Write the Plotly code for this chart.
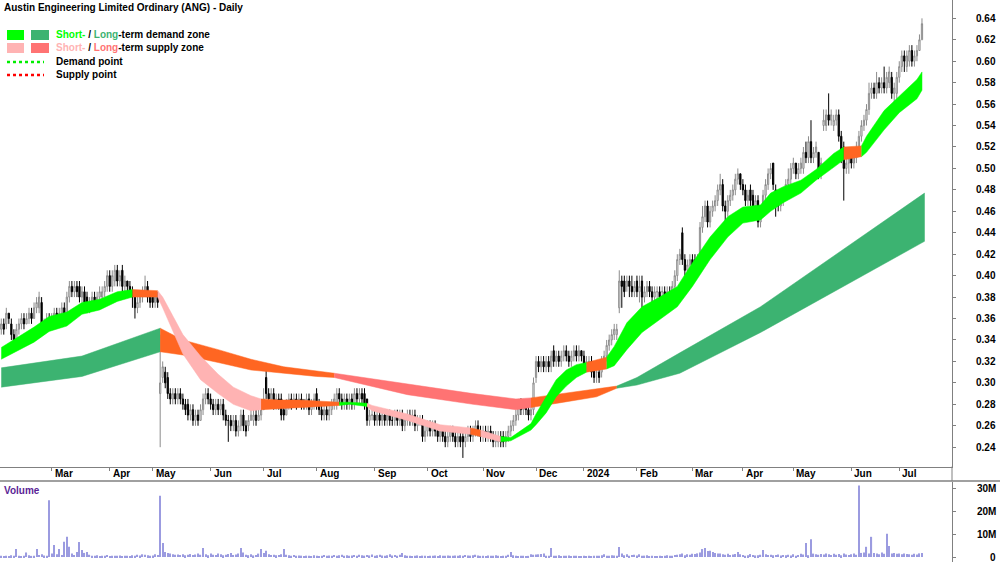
import plotly.graph_objects as go

# ---------------- data ----------------
# trading-day index 0 = first candle (early Feb 2023)
opens = [
    0.350, 0.355, 0.355, 0.365, 0.355, 0.345, 0.340, 0.350, 0.355, 0.360,
    0.355, 0.360, 0.365, 0.360, 0.370, 0.370, 0.375, 0.350, 0.355, 0.360,
    0.355, 0.360, 0.365, 0.360, 0.365, 0.370, 0.365, 0.380, 0.390, 0.385,
    0.390, 0.390, 0.380, 0.385, 0.380, 0.370, 0.375, 0.380, 0.375, 0.380,
    0.380, 0.385, 0.390, 0.400, 0.390, 0.395, 0.405, 0.395, 0.405, 0.390,
    0.395, 0.390, 0.385, 0.380, 0.370, 0.375, 0.380, 0.385, 0.390, 0.380,
    0.380, 0.375, 0.380, 0.290, 0.305, 0.310, 0.305, 0.290, 0.285, 0.290,
    0.285, 0.290, 0.285, 0.280, 0.280, 0.270, 0.275, 0.265, 0.270, 0.265,
    0.275, 0.285, 0.290, 0.285, 0.280, 0.275, 0.280, 0.275, 0.280, 0.270,
    0.265, 0.265, 0.260, 0.265, 0.255, 0.260, 0.270, 0.260, 0.260, 0.265,
    0.265, 0.270, 0.265, 0.270, 0.275, 0.305, 0.290, 0.285, 0.290, 0.280,
    0.285, 0.285, 0.275, 0.270, 0.280, 0.285, 0.280, 0.285, 0.280, 0.285,
    0.280, 0.280, 0.285, 0.275, 0.280, 0.290, 0.280, 0.275, 0.270, 0.275,
    0.270, 0.275, 0.280, 0.280, 0.290, 0.285, 0.280, 0.285, 0.280, 0.285,
    0.280, 0.290, 0.285, 0.290, 0.290, 0.285, 0.265, 0.270, 0.270, 0.265,
    0.270, 0.265, 0.270, 0.265, 0.270, 0.265, 0.265, 0.270, 0.265, 0.270,
    0.260, 0.265, 0.270, 0.265, 0.270, 0.260, 0.265, 0.265, 0.250, 0.255,
    0.260, 0.255, 0.260, 0.255, 0.250, 0.255, 0.250, 0.245, 0.250, 0.255,
    0.250, 0.245, 0.250, 0.250, 0.245, 0.250, 0.255, 0.250, 0.255, 0.260,
    0.255, 0.250, 0.255, 0.250, 0.255, 0.250, 0.245, 0.245, 0.250, 0.250,
    0.245, 0.250, 0.255, 0.260, 0.265, 0.270, 0.285, 0.275, 0.280, 0.275,
    0.270, 0.275, 0.305, 0.320, 0.315, 0.320, 0.315, 0.320, 0.315, 0.330,
    0.320, 0.325, 0.320, 0.325, 0.330, 0.325, 0.320, 0.325, 0.330, 0.325,
    0.330, 0.325, 0.315, 0.320, 0.320, 0.315, 0.310, 0.310, 0.310, 0.320,
    0.325, 0.335, 0.340, 0.345, 0.345, 0.370, 0.395, 0.395, 0.390, 0.395,
    0.390, 0.385, 0.395, 0.385, 0.395, 0.380, 0.385, 0.390, 0.385, 0.380,
    0.385, 0.385, 0.385, 0.385, 0.380, 0.385, 0.380, 0.390, 0.400, 0.415,
    0.440, 0.415, 0.405, 0.410, 0.415, 0.415, 0.405, 0.420, 0.445, 0.455,
    0.465, 0.450, 0.460, 0.465, 0.470, 0.480, 0.485, 0.465, 0.460, 0.470,
    0.475, 0.480, 0.490, 0.495, 0.485, 0.480, 0.470, 0.480, 0.475, 0.465,
    0.470, 0.450, 0.460, 0.475, 0.485, 0.495, 0.505, 0.480, 0.470, 0.465,
    0.470, 0.475, 0.485, 0.490, 0.500, 0.505, 0.495, 0.500, 0.500, 0.515,
    0.510, 0.525, 0.510, 0.515, 0.515, 0.495, 0.540, 0.540, 0.550, 0.545,
    0.540, 0.545, 0.550, 0.530, 0.520, 0.500, 0.505, 0.510, 0.505, 0.510,
    0.520, 0.530, 0.540, 0.545, 0.555, 0.570, 0.575, 0.570, 0.580, 0.575,
    0.580, 0.575, 0.580, 0.585, 0.570, 0.570, 0.585, 0.595, 0.605, 0.595,
    0.600, 0.610, 0.600, 0.605, 0.610, 0.620,
]
highs = [
    0.360, 0.360, 0.370, 0.365, 0.360, 0.350, 0.355, 0.360, 0.365, 0.365,
    0.365, 0.370, 0.370, 0.375, 0.380, 0.385, 0.380, 0.360, 0.365, 0.365,
    0.365, 0.370, 0.370, 0.370, 0.375, 0.375, 0.385, 0.395, 0.395, 0.395,
    0.395, 0.395, 0.390, 0.390, 0.385, 0.380, 0.385, 0.385, 0.385, 0.390,
    0.390, 0.395, 0.405, 0.405, 0.405, 0.410, 0.410, 0.405, 0.410, 0.400,
    0.395, 0.395, 0.390, 0.385, 0.380, 0.385, 0.390, 0.400, 0.395, 0.385,
    0.385, 0.385, 0.385, 0.345, 0.320, 0.315, 0.310, 0.295, 0.295, 0.295,
    0.295, 0.295, 0.290, 0.285, 0.285, 0.280, 0.280, 0.275, 0.275, 0.280,
    0.290, 0.295, 0.295, 0.290, 0.285, 0.285, 0.285, 0.285, 0.285, 0.275,
    0.270, 0.270, 0.270, 0.270, 0.265, 0.275, 0.275, 0.265, 0.270, 0.275,
    0.275, 0.275, 0.275, 0.285, 0.295, 0.315, 0.295, 0.295, 0.295, 0.290,
    0.290, 0.290, 0.280, 0.285, 0.290, 0.290, 0.290, 0.290, 0.290, 0.290,
    0.285, 0.290, 0.290, 0.285, 0.290, 0.295, 0.285, 0.280, 0.280, 0.280,
    0.280, 0.285, 0.290, 0.295, 0.295, 0.290, 0.290, 0.290, 0.290, 0.290,
    0.295, 0.295, 0.295, 0.295, 0.295, 0.285, 0.275, 0.275, 0.275, 0.275,
    0.275, 0.275, 0.275, 0.275, 0.275, 0.270, 0.275, 0.275, 0.275, 0.275,
    0.270, 0.275, 0.275, 0.275, 0.275, 0.270, 0.270, 0.270, 0.260, 0.265,
    0.265, 0.265, 0.265, 0.260, 0.260, 0.260, 0.255, 0.255, 0.260, 0.260,
    0.255, 0.255, 0.255, 0.255, 0.255, 0.260, 0.260, 0.260, 0.265, 0.265,
    0.260, 0.260, 0.260, 0.260, 0.260, 0.255, 0.255, 0.255, 0.255, 0.255,
    0.255, 0.260, 0.265, 0.270, 0.275, 0.285, 0.285, 0.285, 0.285, 0.280,
    0.280, 0.305, 0.325, 0.325, 0.325, 0.325, 0.325, 0.325, 0.330, 0.335,
    0.330, 0.330, 0.330, 0.335, 0.335, 0.330, 0.330, 0.335, 0.335, 0.335,
    0.330, 0.330, 0.325, 0.325, 0.325, 0.320, 0.315, 0.315, 0.325, 0.330,
    0.340, 0.345, 0.350, 0.355, 0.355, 0.405, 0.400, 0.400, 0.400, 0.400,
    0.400, 0.395, 0.400, 0.400, 0.400, 0.390, 0.395, 0.395, 0.390, 0.390,
    0.390, 0.390, 0.390, 0.390, 0.390, 0.390, 0.395, 0.405, 0.420, 0.425,
    0.445, 0.420, 0.415, 0.420, 0.420, 0.420, 0.420, 0.450, 0.465, 0.470,
    0.470, 0.465, 0.470, 0.475, 0.485, 0.495, 0.490, 0.470, 0.475, 0.480,
    0.485, 0.495, 0.500, 0.495, 0.490, 0.485, 0.480, 0.485, 0.480, 0.475,
    0.475, 0.465, 0.480, 0.490, 0.500, 0.505, 0.505, 0.485, 0.475, 0.480,
    0.480, 0.490, 0.500, 0.505, 0.510, 0.505, 0.505, 0.510, 0.520, 0.525,
    0.530, 0.545, 0.520, 0.525, 0.515, 0.510, 0.555, 0.555, 0.570, 0.555,
    0.550, 0.555, 0.555, 0.535, 0.525, 0.510, 0.515, 0.515, 0.520, 0.525,
    0.535, 0.545, 0.550, 0.560, 0.580, 0.580, 0.580, 0.590, 0.585, 0.585,
    0.595, 0.590, 0.595, 0.590, 0.580, 0.590, 0.600, 0.610, 0.610, 0.610,
    0.615, 0.615, 0.610, 0.615, 0.625, 0.640,
]
lows = [
    0.345, 0.345, 0.350, 0.355, 0.340, 0.335, 0.340, 0.345, 0.350, 0.350,
    0.355, 0.355, 0.355, 0.360, 0.365, 0.365, 0.345, 0.345, 0.350, 0.350,
    0.350, 0.355, 0.355, 0.355, 0.360, 0.360, 0.365, 0.375, 0.380, 0.380,
    0.380, 0.375, 0.375, 0.370, 0.365, 0.365, 0.370, 0.370, 0.370, 0.375,
    0.375, 0.380, 0.385, 0.385, 0.385, 0.390, 0.390, 0.390, 0.385, 0.385,
    0.385, 0.380, 0.370, 0.360, 0.365, 0.370, 0.375, 0.380, 0.375, 0.370,
    0.370, 0.370, 0.370, 0.240, 0.300, 0.295, 0.285, 0.280, 0.280, 0.280,
    0.280, 0.280, 0.275, 0.270, 0.265, 0.265, 0.260, 0.260, 0.260, 0.265,
    0.270, 0.280, 0.280, 0.275, 0.270, 0.270, 0.270, 0.270, 0.265, 0.260,
    0.245, 0.255, 0.255, 0.250, 0.250, 0.255, 0.255, 0.250, 0.255, 0.265,
    0.260, 0.260, 0.265, 0.265, 0.275, 0.285, 0.280, 0.280, 0.275, 0.275,
    0.275, 0.265, 0.265, 0.270, 0.275, 0.275, 0.280, 0.275, 0.280, 0.275,
    0.275, 0.275, 0.270, 0.270, 0.275, 0.275, 0.270, 0.265, 0.265, 0.265,
    0.265, 0.270, 0.275, 0.275, 0.280, 0.275, 0.275, 0.275, 0.275, 0.275,
    0.275, 0.280, 0.280, 0.280, 0.275, 0.260, 0.260, 0.265, 0.260, 0.260,
    0.260, 0.260, 0.260, 0.260, 0.260, 0.260, 0.260, 0.260, 0.260, 0.255,
    0.255, 0.260, 0.260, 0.260, 0.255, 0.255, 0.260, 0.245, 0.245, 0.250,
    0.250, 0.250, 0.250, 0.245, 0.245, 0.245, 0.240, 0.240, 0.245, 0.245,
    0.240, 0.240, 0.240, 0.230, 0.240, 0.245, 0.245, 0.245, 0.250, 0.250,
    0.245, 0.245, 0.245, 0.245, 0.245, 0.240, 0.240, 0.240, 0.240, 0.240,
    0.240, 0.245, 0.250, 0.255, 0.260, 0.265, 0.270, 0.270, 0.270, 0.265,
    0.265, 0.270, 0.300, 0.310, 0.310, 0.310, 0.310, 0.310, 0.310, 0.315,
    0.315, 0.315, 0.315, 0.320, 0.320, 0.315, 0.315, 0.320, 0.320, 0.320,
    0.320, 0.310, 0.310, 0.315, 0.305, 0.300, 0.300, 0.300, 0.305, 0.315,
    0.320, 0.330, 0.335, 0.340, 0.340, 0.365, 0.370, 0.380, 0.385, 0.380,
    0.380, 0.380, 0.380, 0.375, 0.370, 0.375, 0.380, 0.380, 0.375, 0.375,
    0.375, 0.375, 0.380, 0.375, 0.375, 0.375, 0.380, 0.385, 0.395, 0.410,
    0.410, 0.400, 0.400, 0.405, 0.405, 0.400, 0.405, 0.415, 0.440, 0.450,
    0.445, 0.445, 0.455, 0.460, 0.465, 0.475, 0.460, 0.440, 0.455, 0.465,
    0.470, 0.475, 0.485, 0.480, 0.475, 0.465, 0.465, 0.465, 0.460, 0.460,
    0.445, 0.445, 0.455, 0.470, 0.480, 0.490, 0.480, 0.455, 0.460, 0.460,
    0.465, 0.470, 0.480, 0.485, 0.495, 0.490, 0.490, 0.495, 0.495, 0.505,
    0.505, 0.505, 0.505, 0.510, 0.490, 0.490, 0.535, 0.535, 0.540, 0.540,
    0.535, 0.540, 0.525, 0.505, 0.470, 0.495, 0.495, 0.500, 0.500, 0.505,
    0.515, 0.525, 0.535, 0.540, 0.550, 0.565, 0.565, 0.565, 0.570, 0.570,
    0.570, 0.570, 0.575, 0.565, 0.555, 0.565, 0.580, 0.590, 0.590, 0.590,
    0.595, 0.595, 0.595, 0.600, 0.610, 0.620,
]
closes = [
    0.355, 0.350, 0.365, 0.360, 0.345, 0.340, 0.350, 0.355, 0.360, 0.355,
    0.360, 0.365, 0.360, 0.370, 0.375, 0.380, 0.350, 0.355, 0.360, 0.355,
    0.360, 0.365, 0.360, 0.365, 0.370, 0.365, 0.380, 0.390, 0.385, 0.390,
    0.385, 0.380, 0.385, 0.375, 0.370, 0.375, 0.380, 0.375, 0.380, 0.385,
    0.385, 0.390, 0.400, 0.390, 0.400, 0.405, 0.395, 0.400, 0.390, 0.395,
    0.390, 0.385, 0.380, 0.370, 0.375, 0.380, 0.385, 0.390, 0.380, 0.375,
    0.375, 0.380, 0.375, 0.300, 0.315, 0.300, 0.290, 0.285, 0.290, 0.285,
    0.290, 0.285, 0.280, 0.275, 0.270, 0.275, 0.265, 0.270, 0.265, 0.275,
    0.285, 0.290, 0.285, 0.280, 0.275, 0.280, 0.275, 0.280, 0.270, 0.265,
    0.265, 0.260, 0.265, 0.255, 0.260, 0.270, 0.260, 0.255, 0.265, 0.270,
    0.270, 0.265, 0.270, 0.275, 0.285, 0.290, 0.285, 0.290, 0.280, 0.285,
    0.280, 0.270, 0.270, 0.280, 0.285, 0.280, 0.285, 0.280, 0.285, 0.280,
    0.280, 0.285, 0.275, 0.280, 0.285, 0.280, 0.275, 0.270, 0.275, 0.270,
    0.275, 0.280, 0.285, 0.290, 0.285, 0.280, 0.285, 0.280, 0.285, 0.280,
    0.290, 0.285, 0.290, 0.285, 0.280, 0.265, 0.270, 0.270, 0.265, 0.270,
    0.265, 0.270, 0.265, 0.270, 0.265, 0.265, 0.270, 0.265, 0.270, 0.260,
    0.265, 0.270, 0.265, 0.270, 0.260, 0.265, 0.265, 0.250, 0.255, 0.260,
    0.255, 0.260, 0.255, 0.250, 0.255, 0.250, 0.245, 0.250, 0.255, 0.250,
    0.245, 0.250, 0.245, 0.245, 0.250, 0.255, 0.250, 0.255, 0.260, 0.255,
    0.250, 0.255, 0.250, 0.255, 0.250, 0.245, 0.250, 0.250, 0.245, 0.245,
    0.250, 0.255, 0.260, 0.265, 0.270, 0.280, 0.275, 0.280, 0.275, 0.270,
    0.275, 0.300, 0.320, 0.315, 0.320, 0.315, 0.320, 0.315, 0.325, 0.320,
    0.325, 0.320, 0.325, 0.330, 0.325, 0.320, 0.325, 0.330, 0.325, 0.330,
    0.325, 0.315, 0.320, 0.320, 0.310, 0.305, 0.310, 0.305, 0.320, 0.325,
    0.335, 0.340, 0.345, 0.350, 0.350, 0.395, 0.390, 0.385, 0.395, 0.390,
    0.385, 0.390, 0.385, 0.390, 0.380, 0.385, 0.390, 0.385, 0.380, 0.385,
    0.385, 0.380, 0.385, 0.380, 0.385, 0.380, 0.390, 0.400, 0.415, 0.420,
    0.415, 0.405, 0.410, 0.415, 0.410, 0.405, 0.415, 0.445, 0.455, 0.465,
    0.450, 0.460, 0.465, 0.470, 0.480, 0.485, 0.465, 0.460, 0.470, 0.475,
    0.480, 0.490, 0.495, 0.485, 0.480, 0.470, 0.475, 0.470, 0.465, 0.470,
    0.450, 0.460, 0.475, 0.485, 0.495, 0.500, 0.485, 0.470, 0.465, 0.475,
    0.475, 0.485, 0.490, 0.500, 0.505, 0.495, 0.500, 0.505, 0.515, 0.510,
    0.525, 0.510, 0.515, 0.520, 0.495, 0.505, 0.545, 0.550, 0.545, 0.550,
    0.545, 0.550, 0.530, 0.510, 0.500, 0.505, 0.510, 0.505, 0.515, 0.520,
    0.530, 0.540, 0.545, 0.555, 0.570, 0.575, 0.570, 0.580, 0.575, 0.580,
    0.575, 0.585, 0.590, 0.570, 0.575, 0.585, 0.595, 0.605, 0.600, 0.605,
    0.610, 0.600, 0.605, 0.610, 0.620, 0.635,
]
volume_m = [
    0.6, 0.3, 0.5, 0.4, 0.8, 0.5, 3.5, 0.6, 0.4, 0.5,
    2.0, 0.8, 0.5, 0.6, 3.5, 0.9, 1.2, 0.7, 0.6, 25.0,
    1.5, 5.3, 1.2, 3.5, 0.9, 6.7, 8.9, 4.5, 1.5, 0.9,
    2.2, 6.6, 3.1, 1.8, 2.2, 1.0, 0.6, 0.5, 0.8, 0.4,
    0.6, 0.5, 0.9, 0.4, 0.6, 0.5, 0.5, 0.7, 0.4, 0.6,
    0.5, 0.4, 0.8, 0.6, 1.0, 0.7, 1.2, 1.0, 0.8, 0.6,
    0.7, 1.2, 0.9, 27.0, 6.2, 2.2, 1.8, 1.5, 1.2, 1.0,
    1.1, 0.9, 1.2, 0.8, 1.0, 1.3, 0.9, 1.1, 1.5, 1.0,
    4.0, 1.2, 0.8, 1.5, 1.0, 0.9, 1.6, 1.2, 0.8, 1.0,
    1.3, 1.8, 0.9, 1.1, 1.5, 4.0, 2.0, 1.0, 0.8, 1.2,
    0.7, 0.9, 1.5, 3.5, 1.8, 2.8, 1.2, 0.9, 1.0, 0.8,
    0.9, 1.2, 3.5, 1.0, 0.8, 0.6, 0.9, 0.5, 0.7, 0.6,
    0.4, 0.6, 0.5, 0.3, 0.8, 0.5, 0.4, 0.6, 0.9, 0.5,
    0.7, 0.6, 0.9, 0.5, 0.8, 1.0, 0.6, 0.8, 0.5, 0.7,
    0.9, 0.6, 1.0, 0.8, 0.6, 0.9, 0.7, 1.1, 0.5, 0.8,
    1.0, 0.7, 0.6, 0.8, 1.2, 0.7, 0.9, 0.6, 1.0, 1.8,
    0.8, 0.5, 0.6, 0.4, 0.5, 0.7, 0.3, 0.6, 0.5, 0.4,
    0.6, 0.5, 0.7, 0.4, 0.8, 0.6, 0.5, 0.7, 0.6, 0.5,
    0.7, 0.6, 0.8, 0.5, 0.9, 0.7, 0.6, 0.8, 1.0, 0.7,
    0.5, 0.6, 0.4, 0.7, 0.5, 0.6, 0.8, 0.5, 0.4, 0.6,
    0.5, 1.0, 2.2, 0.8, 0.5, 0.4, 0.6, 0.5, 0.3, 0.5,
    1.2, 1.0, 1.1, 1.2, 1.3, 1.6, 0.5, 0.6, 4.0, 0.5,
    0.6, 0.8, 0.4, 0.5, 0.6, 0.7, 0.4, 0.6, 0.5, 0.3,
    0.4, 0.5, 0.3, 0.6, 0.4, 0.5, 0.6, 0.5, 0.8, 1.2,
    0.6, 0.5, 0.8, 0.7, 0.5, 4.4, 1.5, 0.8, 1.2, 0.6,
    0.9, 1.0, 0.7, 1.2, 0.5, 0.6, 0.8, 0.4, 0.5, 0.3,
    0.4, 0.5, 0.3, 0.6, 0.8, 0.5, 0.6, 0.9, 1.0, 1.2,
    1.5, 0.8, 1.2, 1.0, 1.4, 1.3, 1.6, 2.0, 3.5, 4.0,
    2.7, 2.8, 2.2, 1.8, 1.5, 1.6, 1.2, 1.0, 1.4, 0.9,
    1.1, 1.3, 2.2, 1.2, 0.9, 0.6, 0.8, 1.3, 0.9, 0.7,
    0.8, 1.0, 3.1, 1.2, 0.9, 1.0, 0.8, 0.9, 1.1, 0.7,
    0.9, 0.8, 1.0, 0.7, 1.2, 0.6, 0.9, 1.4, 1.1, 6.2,
    0.8, 7.8, 1.5, 1.2, 1.0, 1.3, 1.1, 1.6, 1.2, 0.9,
    1.4, 1.0, 1.3, 0.8, 1.6, 1.1, 0.9, 1.2, 1.5, 1.0,
    31.5, 1.8, 2.0, 4.5, 1.5, 8.9, 1.8, 1.5, 1.2, 2.0,
    1.4, 10.2, 4.9, 1.5, 1.8, 1.4, 1.6, 1.2, 1.5, 1.3,
    1.2, 1.0, 1.4, 1.1, 1.6, 1.8,
]

# short-term zone edges, read at sample trading-day indices
short_idx = [0, 13, 19, 26, 32, 39, 46, 52, 62, 64, 72, 79, 86, 92, 99, 103, 110, 118,
             126, 134, 138, 145, 147, 161, 174, 186, 190, 198, 202, 210, 212, 216, 220,
             224, 228, 232, 240, 243, 248, 254, 261, 268, 274, 281, 288, 294, 301, 305,
             310, 317, 323, 330, 334, 341, 343, 350, 356, 363, 365]
short_top = [0.333, 0.352, 0.362, 0.366, 0.375, 0.378, 0.385, 0.387, 0.386, 0.380, 0.345,
             0.325, 0.308, 0.296, 0.288, 0.285, 0.284, 0.284, 0.283, 0.282, 0.282, 0.281,
             0.279, 0.271, 0.261, 0.258, 0.256, 0.250, 0.249, 0.262, 0.271, 0.287, 0.303,
             0.312, 0.317, 0.319, 0.324, 0.334, 0.356, 0.371, 0.380, 0.390, 0.412, 0.436,
             0.455, 0.464, 0.466, 0.477, 0.483, 0.489, 0.499, 0.514, 0.520, 0.521, 0.530,
             0.554, 0.567, 0.583, 0.590]
short_bot = [0.322, 0.338, 0.348, 0.353, 0.364, 0.368, 0.376, 0.380, 0.380, 0.370, 0.327,
             0.303, 0.290, 0.280, 0.274, 0.275, 0.276, 0.277, 0.278, 0.279, 0.280, 0.278,
             0.274, 0.265, 0.255, 0.252, 0.250, 0.245, 0.246, 0.256, 0.261, 0.272, 0.287,
             0.297, 0.305, 0.310, 0.313, 0.316, 0.331, 0.347, 0.359, 0.371, 0.390, 0.415,
             0.436, 0.449, 0.452, 0.460, 0.468, 0.477, 0.489, 0.501, 0.508, 0.511, 0.515,
             0.536, 0.552, 0.565, 0.573]
# zone state of each interval starting at the sample: D demand, S supply, X mixed
short_state = ["D", "D", "D", "D", "D", "D", "D", "X", "S", "S", "S", "S", "S", "S", "S",
               "X", "X", "X", "X", "D", "D", "S", "S", "S", "S", "X", "S", "D", "D", "D",
               "D", "D", "D", "D", "D", "X", "D", "D", "D", "D", "D", "D", "D", "D", "D",
               "D", "D", "D", "D", "D", "D", "D", "X", "D", "D", "D", "D", "D", "D"]

long_idx = [0, 32, 63, 72, 86, 99, 112, 125, 132, 161, 187, 204, 210, 223, 236, 244, 252,
            269, 301, 366]
long_top = [0.314, 0.325, 0.351, 0.340, 0.331, 0.322, 0.315, 0.311, 0.309, 0.299, 0.290,
            0.285, 0.286, 0.290, 0.294, 0.297, 0.305, 0.328, 0.371, 0.477]
long_bot = [0.296, 0.306, 0.329, 0.326, 0.319, 0.312, 0.309, 0.306, 0.305, 0.289, 0.280,
            0.275, 0.277, 0.282, 0.287, 0.295, 0.298, 0.309, 0.347, 0.432]
long_state = ["D", "D", "X", "X", "X", "X", "X", "X", "S", "S", "S", "S", "X", "X", "X",
              "D", "D", "D", "D", "D"]

price_ticks = [0.24, 0.26, 0.28, 0.30, 0.32, 0.34, 0.36, 0.38, 0.40, 0.42, 0.44, 0.46,
               0.48, 0.50, 0.52, 0.54, 0.56, 0.58, 0.60, 0.62, 0.64]
volume_ticks = [0, 10, 20, 30]
volume_tick_text = ["0", "10M", "20M", "30M"]
month_idx = [20, 43, 60, 83, 104, 125, 148, 169, 191, 212, 231, 252, 274, 294, 314, 337, 356]
month_labels = ["Mar", "Apr", "May", "Jun", "Jul", "Aug", "Sep", "Oct", "Nov", "Dec",
                "2024", "Feb", "Mar", "Apr", "May", "Jun", "Jul"]

# ---------------- styling ----------------
SHORT_COL = {"D": "#00ff00", "S": "#ffb3b3", "X": "#ff6622"}
LONG_COL = {"D": "#3cb371", "S": "#ff7373", "X": "#ff6622"}
FONT = "Liberation Sans, Arial, sans-serif"
W, H = 1000, 562
PLOT_RIGHT = 952 / W
PRICE_BOTTOM = 1 - 466.5 / H
VOL_TOP = 1 - 481 / H
LABEL_RIGHT = 998 / W

n = len(closes)
xs = list(range(n))

fig = go.Figure()


def add_band(idx, top, bot, state, cols):
    start = 0
    for k in range(1, len(idx)):
        if k == len(idx) - 1 or state[k] != state[start]:
            seg = range(start, k + 1)
            px = [idx[i] for i in seg]
            py_top = [top[i] for i in seg]
            py_bot = [bot[i] for i in seg]
            fig.add_trace(go.Scatter(
                x=px + px[::-1], y=py_top + py_bot[::-1],
                fill="toself", fillcolor=cols[state[start]],
                line=dict(width=0.5, color=cols[state[start]]),
                mode="lines", hoverinfo="skip", showlegend=False,
                xaxis="x", yaxis="y"))
            start = k


add_band(long_idx, long_top, long_bot, long_state, LONG_COL)
add_band(short_idx, short_top, short_bot, short_state, SHORT_COL)

fig.add_trace(go.Candlestick(
    x=xs, open=opens, high=highs, low=lows, close=closes,
    increasing=dict(fillcolor="#ffffff", line=dict(color="#8c8c8c", width=1)),
    decreasing=dict(fillcolor="#000000", line=dict(color="#000000", width=1)),
    whiskerwidth=0, showlegend=False, xaxis="x", yaxis="y"))

fig.add_trace(go.Bar(
    x=xs, y=volume_m, width=0.45, marker=dict(color="#9b9be0", line=dict(width=0)),
    showlegend=False, xaxis="x2", yaxis="y2"))

axis_common = dict(showgrid=False, zeroline=False)
fig.update_layout(
    width=W, height=H, margin=dict(l=0, r=0, t=0, b=0),
    paper_bgcolor="white", plot_bgcolor="white", showlegend=False,
    font=dict(family=FONT, size=10, color="black"),
    xaxis=dict(domain=[0, PLOT_RIGHT], range=[-0.5, 376.9], anchor="y",
               rangeslider=dict(visible=False), showticklabels=False,
               tickvals=month_idx, ticks="outside", ticklen=3, tickcolor="#808080",
               showline=True, linecolor="#808080", linewidth=1, **axis_common),
    xaxis2=dict(domain=[0, PLOT_RIGHT], range=[-0.5, 376.9], anchor="y2",
                showticklabels=False, ticks="", showline=False, **axis_common),
    yaxis=dict(domain=[PRICE_BOTTOM, 1], range=[0.222, 0.6571], anchor="x", side="right",
               tickvals=price_ticks, showticklabels=False, ticks="outside", ticklen=3,
               tickcolor="#808080", showline=True, linecolor="#808080", **axis_common),
    yaxis2=dict(domain=[0, VOL_TOP], range=[-2.2, 33.5], anchor="x2", side="right",
                tickvals=volume_ticks, showticklabels=False, ticks="outside", ticklen=3,
                tickcolor="#808080", showline=True, linecolor="#808080", **axis_common),
)

ann = []
# right-aligned axis labels
for v in price_ticks:
    ann.append(dict(x=LABEL_RIGHT, xref="paper", y=v, yref="y", text="<b>%.2f</b>" % v,
                    showarrow=False, xanchor="right", yanchor="middle",
                    font=dict(family=FONT, size=10, color="black")))
for v, t in zip(volume_ticks, volume_tick_text):
    ann.append(dict(x=LABEL_RIGHT, xref="paper", y=v, yref="y2", text="<b>%s</b>" % t,
                    showarrow=False, xanchor="right", yanchor="middle",
                    font=dict(family=FONT, size=10, color="black")))

# month labels in the strip between the panels
for xi, lab in zip(month_idx, month_labels):
    ann.append(dict(x=xi, xref="x", y=1 - 474 / H, yref="paper", text="<b>%s</b>" % lab,
                    showarrow=False, xanchor="left", yanchor="middle", xshift=1,
                    font=dict(family=FONT, size=10, color="black")))

ann.append(dict(x=2 / W, y=1 - 7 / H, xref="paper", yref="paper", xanchor="left",
                yanchor="middle", showarrow=False,
                text="<b>Austin Engineering Limited Ordinary (ANG) - Daily</b>",
                font=dict(family=FONT, size=10, color="black")))
ann.append(dict(x=2 / W, y=1 - 490 / H, xref="paper", yref="paper", xanchor="left",
                yanchor="middle", showarrow=False, text="<b>Volume</b>",
                font=dict(family=FONT, size=10, color="#5b1f96")))

legend_rows = [
    (35, "<b><span style='color:#00ff00'>Short-</span> / <span style='color:#3cb371'>Long</span>-term demand zone</b>"),
    (48, "<b><span style='color:#ffb3b3'>Short-</span> / <span style='color:#ff7373'>Long</span>-term supply zone</b>"),
    (62, "<b>Demand point</b>"),
    (75, "<b>Supply point</b>"),
]
for yy, txt in legend_rows:
    ann.append(dict(x=54 / W, y=1 - yy / H, xref="paper", yref="paper", xanchor="left",
                    yanchor="middle", showarrow=False, text=txt,
                    font=dict(family=FONT, size=10, color="black")))

shapes = []


def rect(x0, y0, x1, y1, col):
    shapes.append(dict(type="rect", xref="paper", yref="paper", x0=x0 / W, x1=x1 / W,
                       y0=1 - y1 / H, y1=1 - y0 / H, fillcolor=col, line=dict(width=0)))


rect(7, 30, 24, 40, "#00ff00")
rect(31, 30, 49, 40, "#3cb371")
rect(7, 43, 24, 53, "#ffb3b3")
rect(31, 43, 49, 53, "#ff7373")
for yy, col in [(62, "#00ee00"), (75, "#ff0000")]:
    shapes.append(dict(type="line", xref="paper", yref="paper", x0=7 / W, x1=44 / W,
                       y0=1 - yy / H, y1=1 - yy / H, line=dict(color=col, width=2.5, dash="dot")))

# strip separator and axis line through the strip
shapes.append(dict(type="line", xref="paper", yref="paper", x0=0, x1=1, y0=VOL_TOP, y1=VOL_TOP,
                   line=dict(color="#a0a0a0", width=2)))
shapes.append(dict(type="line", xref="paper", yref="paper", x0=PLOT_RIGHT, x1=PLOT_RIGHT,
                   y0=VOL_TOP, y1=PRICE_BOTTOM, line=dict(color="#808080", width=1)))

fig.update_layout(annotations=ann, shapes=shapes)
fig.write_html("out.html")
